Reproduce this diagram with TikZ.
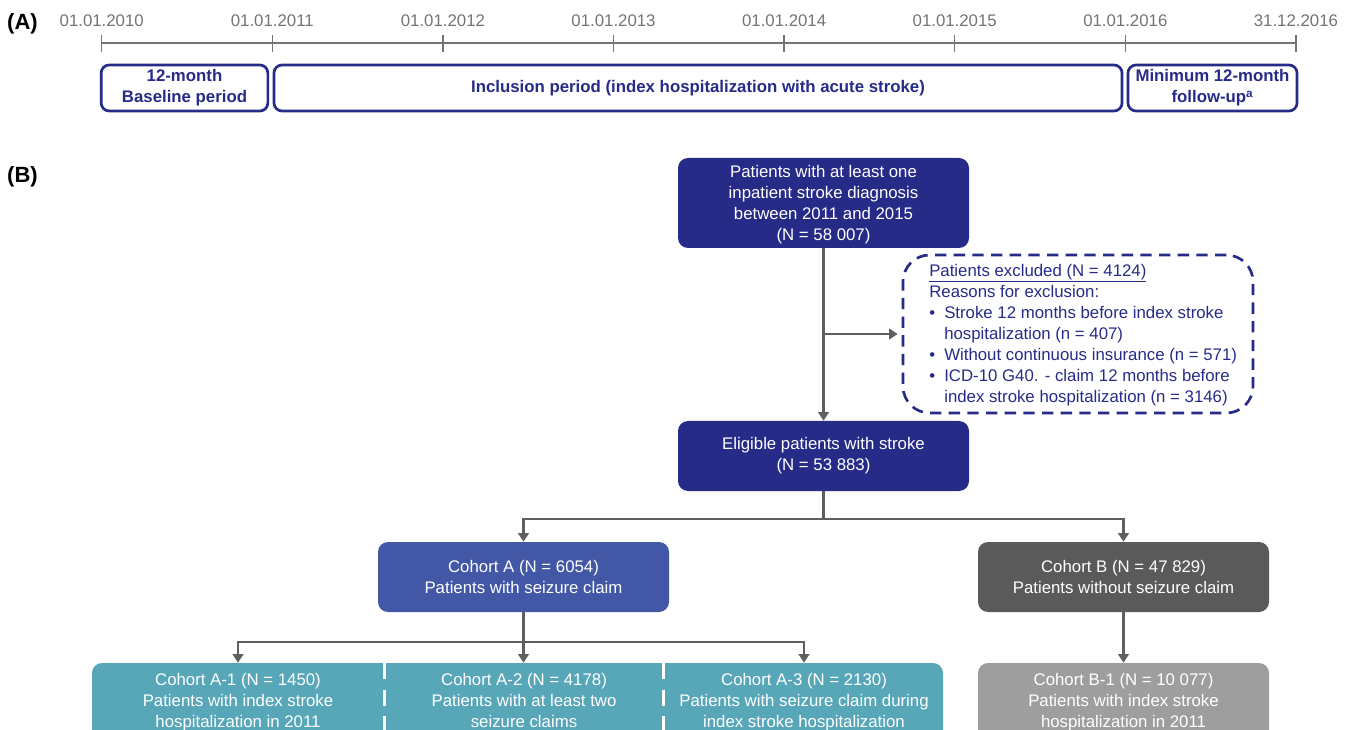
\documentclass[tikz,border=0pt]{standalone}
\usepackage{fontspec}
\setmainfont{Liberation Sans}
\usetikzlibrary{arrows.meta}
\definecolor{navy}{RGB}{39,43,136}
\definecolor{cohA}{RGB}{66,87,165}
\definecolor{cohB}{RGB}{90,90,90}
\definecolor{cohBone}{RGB}{158,158,158}
\definecolor{tealbox}{RGB}{88,167,185}
\definecolor{conncol}{RGB}{95,95,95}
\definecolor{tlgray}{RGB}{115,115,115}
\begin{document}
\begin{tikzpicture}[x=0.75pt,y=-0.75pt,
  font=\fontsize{12.6}{15.75}\selectfont,
  box/.style={rounded corners=7.5pt, minimum width=218.25pt, minimum height=52.5pt, align=center, text=white, inner sep=0pt},
  tlbox/.style={draw=navy, line width=2pt, rounded corners=6pt, text=navy, font=\fontsize{12.6}{15.75}\selectfont\bfseries, align=center, minimum height=34.5pt, inner sep=0pt},
  ticklab/.style={text=tlgray, inner sep=0pt},
  tline/.style={draw=tlgray, line width=1.1pt},
  conn/.style={draw=conncol, line width=1.6pt},
  arr/.style={conn, -{Triangle[width=8pt,length=6.5pt]}},
  panel/.style={font=\fontsize{16.5}{19}\selectfont\bfseries, inner sep=0pt},
  txt/.style={align=center, text=white, inner sep=0pt, minimum height=58.5pt},
  sep/.style={draw=white, line width=2.2pt, dash pattern=on 12pt off 8pt},
  exclbox/.style={draw=navy, line width=2pt, dash pattern=on 8.5pt off 5.5pt, rounded corners=20pt, minimum width=262.5pt, minimum height=118.5pt},
]
\useasboundingbox (0,0) rectangle (1352,730);
\clip (0,0) rectangle (1352,730);

% panel labels
\node[panel] (pA) at (22.5,24) {(A)};
\node[panel] (pB) at (22.5,177) {(B)};

% timeline
\draw[tline] (101.7,43) -- (1296,43);
\foreach \i/\lab in {0/01.01.2010,1/01.01.2011,2/01.01.2012,3/01.01.2013,4/01.01.2014,5/01.01.2015,6/01.01.2016,7/31.12.2016} {
  \node[ticklab] (t\i) at ({101.7+170.6*\i},21) {\lab};
  \draw[tline] ({101.7+170.6*\i},35) -- ({101.7+170.6*\i},52);
}
\node[tlbox, minimum width=125pt] (base) at (184.5,88) {12-month\\Baseline period};
\node[tlbox, minimum width=636pt] (incl) at (698,88) {Inclusion period (index hospitalization with acute stroke)};
\node[tlbox, minimum width=126.75pt] (fup) at (1212.5,88) {Minimum 12-month\\follow-up\textsuperscript{a}};

% flowchart
\node[box, fill=navy, minimum height=67.5pt] (top) at (823.5,203) {};
\node[align=center, text=white, inner sep=0pt] (toptxt) at (823.5,205) {Patients with at least one\\inpatient stroke diagnosis\\between 2011 and 2015\\(N = 58 007)};
\node[box, fill=navy] (elig) at (823.5,456) {Eligible patients with stroke\\(N = 53 883)};
\node[exclbox] (excl) at (1078,334) {};
\node[anchor=west, align=left, text=navy, inner sep=0pt] (excltxt) at (929,335)
  {\underline{Patients excluded (N = 4124)}\\
   Reasons for exclusion:\\
   \makebox[11.25pt][l]{•}Stroke 12 months before index stroke\\
   \hspace*{11.25pt}hospitalization (n = 407)\\
   \makebox[11.25pt][l]{•}Without continuous insurance (n = 571)\\
   \makebox[11.25pt][l]{•}ICD-10 G40. - claim 12 months before\\
   \hspace*{11.25pt}index stroke hospitalization (n = 3146)};
\draw[arr] (top) -- (elig);
\draw[arr] (top.south |- excl.west) -- ([xshift=-3pt]excl.west);

\coordinate (j1) at (823.5,519);
\node[box, fill=cohA] (ca) at (523.5,577) {Cohort A (N = 6054)\\Patients with seizure claim};
\node[box, fill=cohB] (cb) at (1123.5,577) {Cohort B (N = 47 829)\\Patients without seizure claim};
\draw[conn] (elig) -- (j1);
\draw[arr] (j1) -| (ca);
\draw[arr] (j1) -| (cb);

% bottom row
\fill[tealbox, rounded corners=7.5pt] (92,663) rectangle (943,790);
\draw[sep] (384.5,663) -- (384.5,790);
\draw[sep] (663.5,663) -- (663.5,790);
\fill[cohBone, rounded corners=7.5pt] (978,663) rectangle (1269,790);

\node[txt, minimum width=219pt] (a1) at (238,702) {Cohort A-1 (N = 1450)\\Patients with index stroke\\hospitalization in 2011\vphantom{g}};
\node[txt, minimum width=209pt] (a2) at (524,702) {Cohort A-2 (N = 4178)\\Patients with at least two\\seizure claims\vphantom{g}};
\node[txt, minimum width=209pt] (a3) at (804,702) {Cohort A-3 (N = 2130)\\Patients with seizure claim during\\index stroke hospitalization\vphantom{g}};
\node[txt, minimum width=218.25pt] (b1) at (1123.5,702) {Cohort B-1 (N = 10 077)\\Patients with index stroke\\hospitalization in 2011\vphantom{g}};

\coordinate (j2) at (523.5,642);
\draw[conn] (ca) -- (j2);
\draw[arr] (j2) -| (a1);
\draw[arr] (j2) -- (a2.north -| j2);
\draw[arr] (j2) -| (a3);
\draw[arr] (cb) -- (b1);
\end{tikzpicture}
\end{document}
